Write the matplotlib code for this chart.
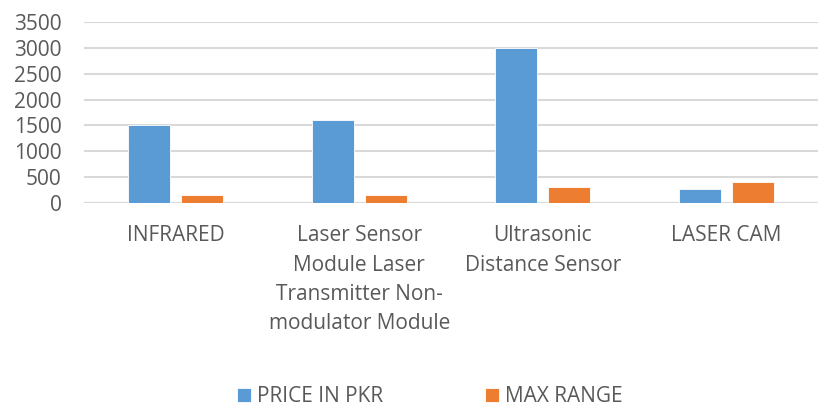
import numpy as np
import matplotlib.pyplot as plt

# sensor comparison data
categories = ["INFRARED",
              "Laser Sensor\nModule Laser\nTransmitter Non-\nmodulator Module",
              "Ultrasonic\nDistance Sensor",
              "LASER CAM"]
price_pkr = [1500, 1600, 3000, 270]
max_range = [150, 150, 300, 400]

BLUE = "#5B9BD5"
ORANGE = "#ED7D31"
TEXT = "#595959"
GRID = "#D9D9D9"

plt.rcParams["font.family"] = ["Open Sans", "DejaVu Sans"]

fig = plt.figure(figsize=(8.18, 4.07), dpi=100)
ax = fig.add_axes([84 / 818, 204 / 407, 1 - 84 / 818, 181 / 407])

x = np.arange(len(categories))
w = 0.23
off = 0.145
ax.bar(x - off, price_pkr, w, color=BLUE, edgecolor="white", linewidth=0.6,
       label="PRICE IN PKR", zorder=3)
ax.bar(x + off, max_range, w, color=ORANGE, edgecolor="white", linewidth=0.6,
       label="MAX RANGE", zorder=3)

ax.set_xlim(-0.5, len(categories) - 0.5)
ax.set_ylim(0, 3500)
ax.set_yticks(range(0, 3501, 500))
ax.yaxis.grid(True, color=GRID, linewidth=1.5, zorder=0)
ax.set_axisbelow(True)
for s in ax.spines.values():
    s.set_visible(False)
ax.axhline(0, color=GRID, linewidth=1.5, zorder=2)

ax.set_xticks(x)
ax.set_xticklabels(categories, fontsize=15, color=TEXT, linespacing=1.52, va="top")
ax.tick_params(axis="x", length=0, pad=16)
ax.tick_params(axis="y", length=0, pad=16, labelsize=15, labelcolor=TEXT)

leg = fig.legend(loc="center", bbox_to_anchor=(0.5257, 10 / 407),
                 ncol=2, frameon=False, fontsize=15, handlelength=0.65, handleheight=0.65,
                 columnspacing=4.9, handletextpad=0.3)
for t in leg.get_texts():
    t.set_color(TEXT)

fig.savefig("out.png", dpi=100)
